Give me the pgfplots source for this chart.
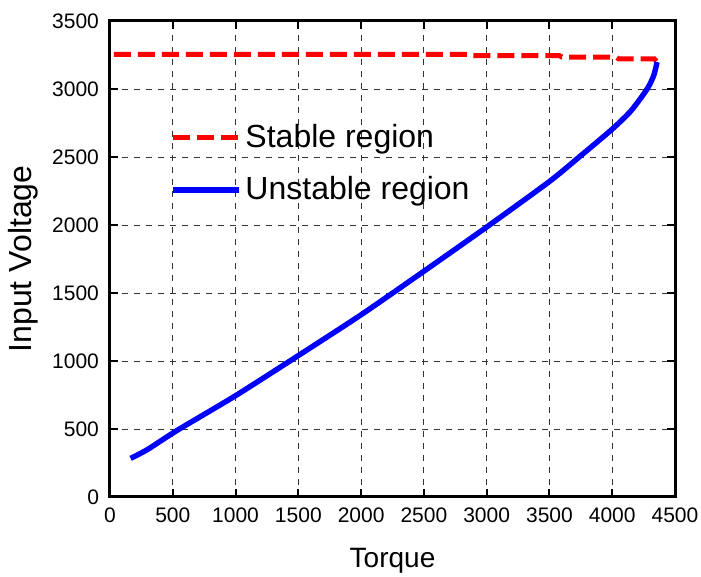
\documentclass[border=0pt]{standalone}
\usepackage{fontspec}
\setmainfont{Liberation Sans}
\usepackage{pgfplots}
\pgfplotsset{compat=1.18}

\begin{document}
\begin{tikzpicture}
\begin{axis}[
  at={(0,0)}, anchor=south west,
  scale only axis,
  width=282.5pt, height=238pt,
  xmin=0, xmax=4500, ymin=0, ymax=3500,
  xtick={0,500,...,4500}, ytick={0,500,...,3500},
  /pgf/number format/assume math mode=true,
  /pgf/number format/1000 sep={},
  tick label style={font=\fontsize{10.5}{12}\selectfont, text=black},
  xticklabel style={yshift=-2pt},
  yticklabel style={xshift=-2pt},
  grid=major,
  major grid style={black!80, line width=0.45pt, dash pattern=on 3pt off 3pt},
  axis line style={black, line width=1.5pt},
  tick style={black, line width=1pt},
  major tick length=4pt,
  tick align=inside,
  xlabel={\fontsize{14}{17}\selectfont Torque},
  ylabel={\fontsize{16}{19}\selectfont Input Voltage},
  xlabel style={yshift=-6pt},
  ylabel style={yshift=0pt},
  legend style={draw=none, fill=none, at={(0.095,0.80)}, anchor=north west,
    font=\fontsize{16}{19}\selectfont, row sep=9pt,
    /tikz/every even column/.append style={column sep=2pt}},
  legend cell align=left,
  legend image code/.code={\draw[#1] (0pt,0pt) -- (33pt,0pt);},
]
% stable branch: nearly constant voltage with small steps
\addplot[red, line width=2.5pt, dash pattern=on 8.5pt off 3.5pt] coordinates {
  (30,3255) (2860,3255) (2880,3245) (3580,3245) (3600,3235)
  (4030,3235) (4050,3222) (4335,3222) (4357,3198)
};
\addlegendentry{Stable region}
% unstable branch
\addplot[blue, line width=2.7pt, line join=round, smooth, tension=0.4] coordinates {
  (164,284) (300,350) (535,490) (1000,745) (1500,1040) (2000,1340)
  (2500,1660) (3000,1985) (3500,2320) (3750,2510) (4000,2705)
  (4150,2840) (4278,3000) (4331,3100) (4357,3198)
};
\addlegendentry{Unstable region}
\end{axis}
\pgfresetboundingbox
\useasboundingbox (-55pt,-40pt) rectangle (295.5pt,248.5pt);
\end{tikzpicture}
\end{document}
